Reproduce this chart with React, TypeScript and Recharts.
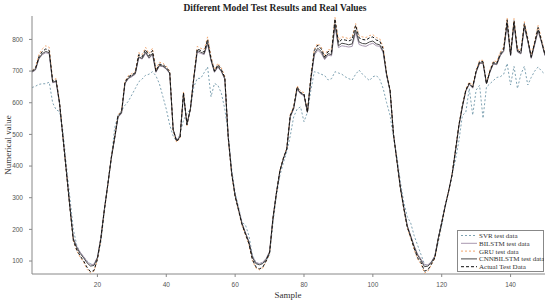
import { LineChart, Line, XAxis, YAxis } from 'recharts'

const samples = Array.from({ length: 150 }, (_, i) => i + 1)

const actual = [
  700, 708, 745, 762, 770, 765, 668, 672, 600, 490,
  380, 270, 165, 135, 116, 100, 80, 66, 70, 105,
  170, 260, 340, 425, 490, 560, 570, 665, 682, 688,
  695, 752, 745, 768, 748, 765, 700, 722, 720, 712,
  698, 515, 478, 490, 632, 530, 580, 680, 770, 765,
  760, 800, 740, 700, 720, 705, 680, 490, 375, 305,
  260, 215, 185, 155, 105, 82, 75, 80, 100, 125,
  235, 315, 385, 424, 455, 560, 585, 650, 632, 628,
  570, 680, 765, 782, 770, 745, 762, 760, 865, 790,
  800, 798, 795, 800, 845, 805, 800, 798, 805, 808,
  798, 795, 770, 690, 640, 500, 415, 330, 265, 207,
  175, 140, 110, 95, 68, 72, 90, 110, 170, 220,
  273, 320, 372, 450, 530, 590, 640, 662, 650, 700,
  730, 730, 660, 700, 728, 725, 755, 770, 862, 752,
  860, 765, 760, 850, 800, 745, 790, 838, 795, 752,
]

const cnnBilstm = [
  698, 705, 740, 755, 762, 758, 665, 668, 598, 490,
  382, 272, 170, 142, 124, 110, 94, 84, 86, 110,
  172, 262, 340, 423, 488, 556, 568, 662, 678, 685,
  692, 745, 740, 760, 742, 756, 698, 718, 716, 708,
  694, 515, 480, 492, 628, 532, 580, 678, 765, 760,
  755, 790, 735, 698, 715, 700, 676, 490, 378, 306,
  262, 218, 188, 160, 112, 92, 88, 92, 105, 128,
  236, 316, 384, 423, 454, 556, 582, 645, 630, 625,
  570, 676, 755, 772, 762, 740, 755, 752, 850, 780,
  788, 786, 783, 786, 830, 792, 787, 786, 792, 795,
  786, 783, 762, 688, 638, 500, 416, 332, 268, 210,
  178, 145, 118, 102, 82, 84, 96, 114, 172, 222,
  274, 320, 372, 448, 528, 588, 638, 660, 648, 698,
  726, 726, 660, 698, 724, 722, 750, 765, 852, 750,
  852, 762, 756, 842, 796, 742, 786, 830, 792, 750,
]

const bilstm = [
  696, 703, 738, 752, 758, 755, 663, 666, 596, 490,
  384, 275, 172, 146, 128, 114, 98, 88, 90, 112,
  174, 262, 340, 422, 486, 554, 566, 660, 676, 682,
  690, 742, 738, 756, 740, 752, 696, 716, 714, 706,
  692, 516, 482, 494, 625, 534, 580, 676, 760, 756,
  752, 785, 732, 696, 712, 698, 674, 492, 380, 308,
  264, 220, 190, 162, 115, 96, 92, 96, 108, 130,
  238, 316, 384, 422, 453, 554, 580, 642, 628, 622,
  570, 672, 750, 766, 756, 736, 750, 748, 842, 774,
  780, 778, 776, 778, 822, 784, 780, 778, 784, 788,
  780, 778, 758, 686, 636, 500, 418, 334, 270, 212,
  180, 148, 122, 106, 88, 88, 98, 116, 172, 222,
  275, 320, 372, 446, 526, 586, 636, 658, 646, 696,
  724, 724, 660, 696, 722, 720, 748, 762, 848, 748,
  848, 760, 754, 838, 794, 740, 782, 826, 790, 748,
]

const gru = [
  702, 712, 752, 770, 780, 775, 672, 676, 602, 492,
  380, 268, 164, 132, 112, 96, 74, 62, 68, 104,
  168, 258, 338, 426, 492, 562, 574, 668, 686, 692,
  698, 758, 752, 775, 755, 772, 704, 728, 725, 716,
  700, 512, 475, 488, 636, 528, 580, 684, 778, 772,
  768, 808, 746, 704, 725, 710, 684, 488, 372, 302,
  258, 212, 182, 152, 102, 78, 72, 78, 98, 124,
  234, 314, 386, 426, 458, 562, 588, 654, 636, 632,
  572, 684, 770, 788, 776, 750, 768, 766, 870, 798,
  808, 806, 802, 808, 850, 812, 808, 806, 812, 815,
  806, 802, 776, 694, 642, 500, 414, 328, 262, 204,
  172, 136, 106, 90, 62, 68, 88, 108, 168, 218,
  272, 320, 374, 452, 532, 592, 644, 666, 654, 704,
  734, 734, 664, 704, 732, 730, 760, 776, 868, 758,
  866, 770, 765, 856, 805, 750, 795, 844, 800, 756,
]

const svr = [
  648, 652, 658, 660, 660, 665, 600, 578, 572, 510,
  400, 300, 200, 150, 125, 112, 100, 92, 88, 110,
  160, 255, 340, 420, 520, 560, 575, 592, 605, 625,
  645, 666, 675, 687, 690, 698, 685, 660, 620, 580,
  530, 495, 478, 500, 545, 565, 580, 650, 677, 677,
  695, 713, 619, 661, 655, 630, 580, 500, 390, 315,
  270, 222, 214, 180, 120, 95, 90, 92, 100, 120,
  220, 305, 370, 410, 445, 495, 555, 580, 587, 540,
  570, 640, 698, 695, 690, 686, 672, 676, 698, 694,
  690, 682, 676, 672, 690, 703, 690, 680, 670, 682,
  686, 674, 645, 600, 560, 490, 430, 350, 285, 240,
  220, 180, 150, 120, 90, 85, 95, 110, 160, 210,
  270, 320, 370, 420, 480, 560, 570, 645, 561, 640,
  655, 551, 650, 660, 670, 680, 682, 690, 724, 656,
  715, 645, 690, 715, 656, 680, 700, 713, 700, 690,
]

const xTicks = [20, 40, 60, 80, 100, 120, 140]
const yTicks = [100, 200, 300, 400, 500, 600, 700, 800]

const series = [
  { key: 'svr', name: 'SVR test data', color: '#7fa3b3', dash: '2 2' },
  { key: 'bilstm', name: 'BILSTM test data', color: '#a898b0', dash: undefined },
  { key: 'gru', name: 'GRU test data', color: '#f2a66e', dash: '2 2' },
  { key: 'cnn', name: 'CNNBILSTM test data', color: '#4a4a4a', dash: undefined },
  { key: 'actual', name: 'Actual Test Data', color: '#111111', dash: '3 2' },
]

const data = samples.map((s, i) => ({
  sample: s,
  svr: svr[i],
  bilstm: bilstm[i],
  gru: gru[i],
  cnn: cnnBilstm[i],
  actual: actual[i],
}))

const serif = '"Liberation Serif", "DejaVu Serif", serif'
const tickStyle = { fontSize: 6.5, fill: '#555', fontFamily: '"Liberation Sans", Arial, sans-serif' }

export default function App() {
  return (
    <div style={{ position: 'absolute', left: 0, top: 0, width: 550, height: 304, background: '#fff' }}>
      <LineChart width={550} height={304} data={data} margin={{ top: 16, right: 5, bottom: 0, left: 0 }}>
        <XAxis
          dataKey="sample"
          type="number"
          domain={[1, 150]}
          ticks={xTicks}
          height={30}
          stroke="#888"
          tickSize={3}
          tickMargin={5}
          tick={tickStyle}
          allowDataOverflow
        />
        <YAxis
          type="number"
          domain={[59, 874]}
          ticks={yTicks}
          width={32}
          stroke="#888"
          tickSize={3}
          tickMargin={6}
          tick={tickStyle}
          allowDataOverflow
        />
        {series.map((s) => (
          <Line
            key={s.key}
            dataKey={s.key}
            name={s.name}
            type="linear"
            stroke={s.color}
            strokeWidth={1}
            strokeDasharray={s.dash}
            dot={false}
            isAnimationActive={false}
          />
        ))}
      </LineChart>

      <div
        style={{
          position: 'absolute', left: 0, top: 3, width: 550, textAlign: 'center',
          fontFamily: serif, fontWeight: 'bold', fontSize: 9.5, color: '#222',
        }}
      >
        Different Model Test Results and Real Values
      </div>
      <div
        style={{
          position: 'absolute', left: 288, top: 290, transform: 'translateX(-50%)',
          fontFamily: serif, fontSize: 9, color: '#333', whiteSpace: 'nowrap',
        }}
      >
        Sample
      </div>
      <div
        style={{
          position: 'absolute', left: 8, top: 145, transform: 'translate(-50%, -50%) rotate(-90deg)',
          fontFamily: serif, fontSize: 9, color: '#333', whiteSpace: 'nowrap',
        }}
      >
        Numerical value
      </div>

      <svg
        width={87}
        height={42}
        style={{ position: 'absolute', left: 457, top: 230 }}
      >
        <rect x={0.5} y={0.5} width={86} height={41} fill="#fff" stroke="#888" strokeWidth={1} />
        {series.map((s, i) => (
          <g key={s.key}>
            <line
              x1={4}
              x2={20}
              y1={5.5 + i * 7.8}
              y2={5.5 + i * 7.8}
              stroke={s.color}
              strokeWidth={1}
              strokeDasharray={s.dash}
            />
            <text x={22} y={8 + i * 7.8} fontSize={7} fontFamily={serif} fill="#333">
              {s.name}
            </text>
          </g>
        ))}
      </svg>
    </div>
  )
}
